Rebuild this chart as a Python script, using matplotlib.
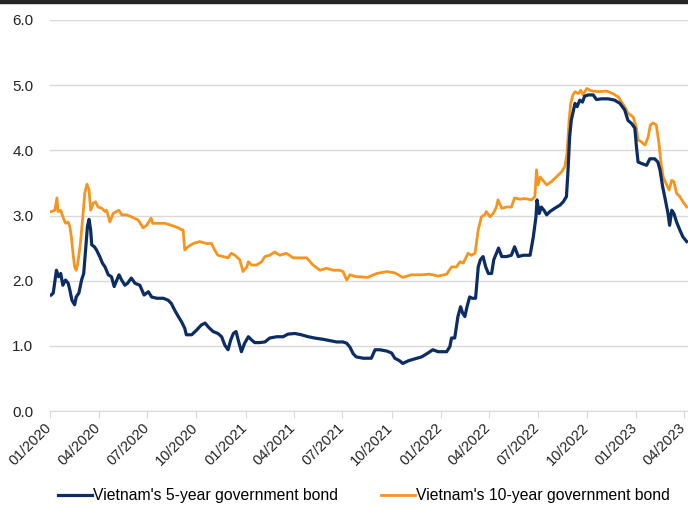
import matplotlib.pyplot as plt
import matplotlib.dates as mdates
import matplotlib.transforms as mtransforms
import pandas as pd
from matplotlib.lines import Line2D

plt.rcParams['font.family'] = ['Liberation Sans', 'DejaVu Sans']

# 5-year yield (%)
dates_5y = ['2020-01-03', '2020-01-07', '2020-01-10', '2020-01-13', '2020-01-17', '2020-01-21',
            '2020-01-25', '2020-01-30', '2020-02-04', '2020-02-07', '2020-02-11', '2020-02-16',
            '2020-02-19', '2020-02-24', '2020-02-29', '2020-03-04', '2020-03-07', '2020-03-11',
            '2020-03-14', '2020-03-17', '2020-03-19', '2020-03-24', '2020-03-28', '2020-04-03',
            '2020-04-08', '2020-04-13', '2020-04-19', '2020-04-25', '2020-04-30', '2020-05-05',
            '2020-05-09', '2020-05-14', '2020-05-20', '2020-05-25', '2020-06-01', '2020-06-08',
            '2020-06-17', '2020-06-25', '2020-07-03', '2020-07-09', '2020-07-19', '2020-07-31',
            '2020-08-09', '2020-08-15', '2020-08-21', '2020-08-28', '2020-09-03', '2020-09-09',
            '2020-09-12', '2020-09-22', '2020-10-01', '2020-10-10', '2020-10-17', '2020-10-23',
            '2020-11-01', '2020-11-10', '2020-11-17', '2020-11-23', '2020-11-29', '2020-12-04',
            '2020-12-09', '2020-12-14', '2020-12-18', '2020-12-24', '2020-12-30', '2021-01-06',
            '2021-01-12', '2021-01-18', '2021-01-27', '2021-02-06', '2021-02-15', '2021-02-28',
            '2021-03-12', '2021-03-21', '2021-04-03', '2021-04-15', '2021-04-28', '2021-05-10',
            '2021-05-26', '2021-06-07', '2021-06-20', '2021-07-02', '2021-07-09', '2021-07-15',
            '2021-07-21', '2021-07-27', '2021-08-09', '2021-08-24', '2021-08-31', '2021-09-09',
            '2021-09-22', '2021-10-01', '2021-10-07', '2021-10-16', '2021-10-22', '2021-11-01',
            '2021-11-13', '2021-11-26', '2021-12-08', '2021-12-17', '2021-12-27', '2022-01-12',
            '2022-01-18', '2022-01-21', '2022-01-27', '2022-02-02', '2022-02-07', '2022-02-11',
            '2022-02-15', '2022-02-19', '2022-02-24', '2022-03-01', '2022-03-07', '2022-03-12',
            '2022-03-16', '2022-03-21', '2022-03-26', '2022-03-31', '2022-04-06', '2022-04-10',
            '2022-04-15', '2022-04-19', '2022-04-25', '2022-05-04', '2022-05-13', '2022-05-19',
            '2022-05-26', '2022-06-04', '2022-06-17', '2022-06-23', '2022-06-28', '2022-06-30',
            '2022-07-04', '2022-07-08', '2022-07-13', '2022-07-18', '2022-07-24', '2022-08-02',
            '2022-08-12', '2022-08-18', '2022-08-24', '2022-08-27', '2022-08-30', '2022-09-02',
            '2022-09-09', '2022-09-13', '2022-09-18', '2022-09-23', '2022-09-27', '2022-10-04',
            '2022-10-13', '2022-10-19', '2022-10-29', '2022-11-10', '2022-11-22', '2022-12-02',
            '2022-12-11', '2022-12-17', '2022-12-24', '2022-12-30', '2023-01-02', '2023-01-05',
            '2023-01-11', '2023-01-21', '2023-01-27', '2023-02-05', '2023-02-11', '2023-02-15',
            '2023-02-20', '2023-02-25', '2023-03-02', '2023-03-05', '2023-03-09', '2023-03-13',
            '2023-03-18', '2023-03-24', '2023-03-30', '2023-04-06']
yield_5y = [1.78, 1.81, 1.98, 2.16, 2.06, 2.11,
            1.93, 2.01, 1.96, 1.86, 1.70, 1.63,
            1.75, 1.81, 2.01, 2.11, 2.42, 2.83,
            2.94, 2.78, 2.55, 2.52, 2.47, 2.37,
            2.27, 2.21, 2.09, 2.06, 1.91, 2.01,
            2.09, 2.01, 1.93, 1.96, 2.04, 1.96,
            1.93, 1.78, 1.83, 1.75, 1.73, 1.73,
            1.70, 1.65, 1.55, 1.45, 1.37, 1.27,
            1.17, 1.17, 1.24, 1.32, 1.35, 1.29,
            1.22, 1.19, 1.14, 1.01, 0.94, 1.09,
            1.19, 1.22, 1.09, 0.91, 1.04, 1.14,
            1.09, 1.05, 1.05, 1.06, 1.12, 1.14,
            1.14, 1.18, 1.19, 1.17, 1.14, 1.12,
            1.10, 1.08, 1.06, 1.06, 1.04, 0.98,
            0.88, 0.83, 0.81, 0.81, 0.94, 0.94,
            0.92, 0.89, 0.81, 0.77, 0.73, 0.77,
            0.80, 0.83, 0.89, 0.94, 0.91, 0.91,
            0.99, 1.12, 1.12, 1.45, 1.60, 1.50,
            1.45, 1.60, 1.75, 1.73, 1.73, 2.21,
            2.32, 2.37, 2.21, 2.11, 2.11, 2.32,
            2.42, 2.50, 2.37, 2.37, 2.39, 2.52,
            2.37, 2.39, 2.39, 2.67, 2.98, 3.24,
            3.03, 3.13, 3.08, 3.01, 3.06, 3.11,
            3.16, 3.21, 3.29, 3.70, 4.21, 4.46,
            4.72, 4.67, 4.77, 4.74, 4.83, 4.85,
            4.85, 4.78, 4.79, 4.79, 4.77, 4.72,
            4.62, 4.46, 4.41, 4.34, 4.05, 3.82,
            3.80, 3.77, 3.87, 3.87, 3.82, 3.70,
            3.44, 3.24, 3.03, 2.85, 3.08, 3.03,
            2.90, 2.78, 2.67, 2.60]

# 10-year yield (%)
dates_10y = ['2020-01-03', '2020-01-10', '2020-01-14', '2020-01-16', '2020-01-21', '2020-01-25',
             '2020-01-30', '2020-02-04', '2020-02-07', '2020-02-10', '2020-02-13', '2020-02-16',
             '2020-02-19', '2020-02-22', '2020-02-27', '2020-03-03', '2020-03-06', '2020-03-10',
             '2020-03-14', '2020-03-17', '2020-03-22', '2020-03-26', '2020-03-31', '2020-04-07',
             '2020-04-13', '2020-04-16', '2020-04-22', '2020-04-28', '2020-05-04', '2020-05-09',
             '2020-05-14', '2020-05-23', '2020-06-01', '2020-06-14', '2020-06-23', '2020-06-30',
             '2020-07-08', '2020-07-11', '2020-07-21', '2020-08-03', '2020-08-15', '2020-08-28',
             '2020-09-03', '2020-09-06', '2020-09-09', '2020-09-15', '2020-09-25', '2020-10-07',
             '2020-10-20', '2020-10-29', '2020-11-04', '2020-11-10', '2020-11-20', '2020-11-29',
             '2020-12-05', '2020-12-12', '2020-12-21', '2020-12-27', '2021-01-03', '2021-01-06',
             '2021-01-12', '2021-01-21', '2021-01-31', '2021-02-06', '2021-02-15', '2021-02-24',
             '2021-03-06', '2021-03-18', '2021-03-31', '2021-04-12', '2021-04-25', '2021-05-07',
             '2021-05-20', '2021-06-01', '2021-06-14', '2021-06-26', '2021-07-02', '2021-07-09',
             '2021-07-15', '2021-07-27', '2021-08-02', '2021-08-17', '2021-09-03', '2021-09-22',
             '2021-10-07', '2021-10-22', '2021-11-07', '2021-11-26', '2021-12-11', '2021-12-27',
             '2022-01-12', '2022-01-21', '2022-01-30', '2022-02-06', '2022-02-12', '2022-02-21',
             '2022-02-27', '2022-03-06', '2022-03-12', '2022-03-18', '2022-03-24', '2022-03-27',
             '2022-04-03', '2022-04-09', '2022-04-15', '2022-04-18', '2022-04-25', '2022-05-04',
             '2022-05-13', '2022-05-19', '2022-05-29', '2022-06-07', '2022-06-20', '2022-06-26',
             '2022-06-29', '2022-07-02', '2022-07-06', '2022-07-11', '2022-07-18', '2022-07-27',
             '2022-08-05', '2022-08-15', '2022-08-21', '2022-08-25', '2022-08-29', '2022-09-01',
             '2022-09-05', '2022-09-09', '2022-09-15', '2022-09-20', '2022-09-24', '2022-10-01',
             '2022-10-07', '2022-10-13', '2022-10-25', '2022-11-07', '2022-11-19', '2022-11-29',
             '2022-12-05', '2022-12-11', '2022-12-17', '2022-12-27', '2023-01-02', '2023-01-05',
             '2023-01-11', '2023-01-18', '2023-01-24', '2023-01-28', '2023-02-02', '2023-02-08',
             '2023-02-13', '2023-02-17', '2023-02-21', '2023-02-26', '2023-03-04', '2023-03-09',
             '2023-03-13', '2023-03-18', '2023-03-24', '2023-03-30', '2023-04-06']
yield_10y = [3.06, 3.08, 3.27, 3.06, 3.08, 2.98,
             2.88, 2.90, 2.83, 2.67, 2.42, 2.21,
             2.16, 2.27, 2.58, 3.04, 3.34, 3.48,
             3.39, 3.08, 3.19, 3.21, 3.13, 3.11,
             3.06, 3.08, 2.90, 3.03, 3.06, 3.08,
             3.01, 3.01, 2.98, 2.93, 2.81, 2.85,
             2.96, 2.88, 2.88, 2.88, 2.85, 2.81,
             2.78, 2.78, 2.47, 2.52, 2.57, 2.60,
             2.57, 2.57, 2.47, 2.39, 2.37, 2.35,
             2.42, 2.39, 2.32, 2.14, 2.21, 2.29,
             2.24, 2.24, 2.29, 2.37, 2.39, 2.44,
             2.39, 2.42, 2.35, 2.35, 2.35, 2.24,
             2.16, 2.19, 2.16, 2.16, 2.14, 2.01,
             2.09, 2.06, 2.06, 2.05, 2.11, 2.14,
             2.12, 2.05, 2.09, 2.09, 2.10, 2.07,
             2.10, 2.21, 2.21, 2.29, 2.27, 2.42,
             2.39, 2.42, 2.78, 2.98, 3.01, 3.06,
             2.98, 3.03, 3.13, 3.24, 3.11, 3.13,
             3.13, 3.27, 3.25, 3.26, 3.24, 3.29,
             3.70, 3.47, 3.59, 3.54, 3.47, 3.52,
             3.59, 3.67, 3.75, 3.95, 4.46, 4.72,
             4.85, 4.90, 4.87, 4.92, 4.85, 4.95,
             4.92, 4.91, 4.90, 4.91, 4.87, 4.82,
             4.74, 4.67, 4.57, 4.51, 4.34, 4.16,
             4.13, 4.08, 4.21, 4.39, 4.42, 4.39,
             4.11, 3.80, 3.59, 3.50, 3.39, 3.54,
             3.52, 3.34, 3.29, 3.21, 3.13]

label_5y = "Vietnam's 5-year government bond"
label_10y = "Vietnam's 10-year government bond"
navy = '#0c2d63'
orange = '#f7941d'

fig = plt.figure(figsize=(6.88, 5.07), dpi=100)
ax = fig.add_axes([0.0727, 0.1893, 0.927, 0.7713])

ax.plot(pd.to_datetime(dates_5y), yield_5y, color=navy, lw=2.3, label=label_5y, zorder=3)
ax.plot(pd.to_datetime(dates_10y), yield_10y, color=orange, lw=2.0, label=label_10y, zorder=2)

ax.set_ylim(0, 6)
ax.set_yticks([0, 1, 2, 3, 4, 5, 6])
ax.yaxis.set_major_formatter(plt.FormatStrFormatter('%.1f'))
ax.set_xlim(pd.Timestamp('2020-01-01'), pd.Timestamp('2023-04-08'))
ax.xaxis.set_major_locator(mdates.MonthLocator(bymonth=[1, 4, 7, 10]))
ax.xaxis.set_major_formatter(mdates.DateFormatter('%m/%Y'))

ax.grid(axis='y', color='#d9d9d9', lw=1.0)
ax.set_axisbelow(True)
for side in ['top', 'right', 'left']:
    ax.spines[side].set_visible(False)
ax.spines['bottom'].set_color('#d9d9d9')
ax.tick_params(axis='y', length=0, labelsize=11, labelcolor='#222222', pad=12)
ax.tick_params(axis='x', length=5, color='#d9d9d9', labelsize=10.5, labelcolor='#222222', pad=2)
shift = mtransforms.ScaledTranslation(-4 / 72, 0, fig.dpi_scale_trans)
for lbl in ax.get_xticklabels():
    lbl.set_rotation(45)
    lbl.set_ha('right')
    lbl.set_va('top')
    lbl.set_rotation_mode('anchor')
    lbl.set_transform(lbl.get_transform() + shift)

# heavy rule along the top edge
fig.add_artist(Line2D([0, 1], [0.996, 0.996], transform=fig.transFigure, color='#262626', lw=3.2))

fig.legend(loc='center', bbox_to_anchor=(0.529, 0.022), ncol=2, frameon=False, fontsize=11.3,
           handlelength=2.15, handletextpad=0.05, columnspacing=2.8)

fig.savefig('out.png', dpi=100)
